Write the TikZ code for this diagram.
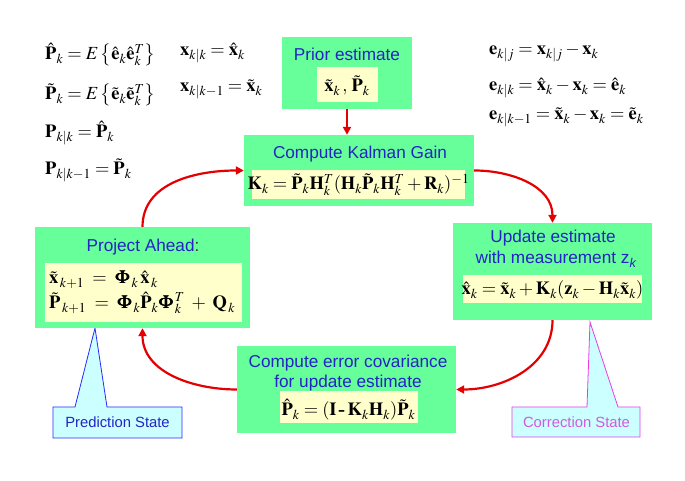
\documentclass[tikz,border=0pt]{standalone}
\usepackage{mathptmx}
\usepackage{amsmath}
\usepackage{bm}
\usepackage{fontspec}
\newfontfamily\arialfont{Liberation Sans}
\usetikzlibrary{arrows.meta}
\definecolor{gfill}{RGB}{102,255,153}
\definecolor{yfill}{RGB}{255,255,204}
\definecolor{tblue}{RGB}{36,36,196}
\definecolor{arrred}{RGB}{228,0,0}
\definecolor{cfill}{RGB}{204,255,255}
\definecolor{pblue}{RGB}{40,40,255}
\definecolor{cmag}{RGB}{230,60,230}
\definecolor{ctext}{RGB}{210,90,220}
\begin{document}
\begin{tikzpicture}[x=1pt,y=1pt,
  gbox/.style={fill=gfill, inner sep=0},
  ybox/.style={fill=yfill, inner sep=0},
  ttl/.style={font=\arialfont\fontsize{17.2}{20}\selectfont, text=tblue, anchor=base, inner sep=0},
  ctxt/.style={font=\arialfont\fontsize{14.8}{17}\selectfont, anchor=base, inner sep=0},
  fml/.style={font=\fontsize{18.5}{22}\selectfont, anchor=base, inner sep=0},
  fmlw/.style={fml, anchor=base west},
  flow/.style={draw=arrred, line width=2.2pt, -{Triangle[length=8pt,width=8pt]}},
  callout/.style={line width=0.8pt}]
\useasboundingbox (0,0) rectangle (685,481);
% callouts
\path[callout,fill=cfill,draw=pblue] (53,74)--(75,74)--(95,153)--(107,74)--(182,74)--(182,43)--(53,43)--cycle;
\node[ctxt,text=tblue] (pred) at (117.5,53) {Prediction State};
\path[callout,fill=cfill,draw=cmag] (512,74)--(587,74)--(590,159)--(618,74)--(640,74)--(640,44)--(512,44)--cycle;
\node[ctxt,text=ctext] (corr) at (576.5,53) {Correction State};
% boxes
\node[gbox,minimum width=130,minimum height=72] (prior) at (347,408) {};
\node[ybox,minimum width=61,minimum height=35] (priory) at (347.5,396.5) {};
\node[gbox,minimum width=230,minimum height=71] (kg) at (359,310.5) {};
\node[ybox,minimum width=213,minimum height=29] (kgy) at (358.5,296.5) {};
\node[gbox,minimum width=215,minimum height=101] (proj) at (142.5,203.5) {};
\node[ybox,minimum width=197,minimum height=59] (projy) at (143.5,188.5) {};
\node[gbox,minimum width=199,minimum height=97] (up) at (552.5,209.5) {};
\node[ybox,minimum width=179,minimum height=28] (upy) at (552.5,192) {};
\node[gbox,minimum width=219,minimum height=87] (err) at (346.5,91.5) {};
\node[ybox,minimum width=138,minimum height=32] (erry) at (349,74) {};
% titles
\node[ttl] (tprior) at (347,420) {Prior estimate};
\node[ttl] (tkg) at (360,322) {Compute Kalman Gain};
\node[ttl] (tproj) at (143,229) {Project Ahead\textcolor{black!80}{:}};
\node[ttl] (tup1) at (553,238) {Update estimate};
\node[ttl] (tup2) at (556,217) {with measurement z\textsubscript{\itshape k}};
\node[ttl] (terr1) at (348,113) {Compute error covariance};
\node[ttl] (terr2) at (348,93) {for update estimate};
% formulas in boxes
\node[fml] (fprior) at (347,389) {$\tilde{\mathbf x}_k\,,\,\tilde{\mathbf P}_k$};
\node[fml] (fkg) at (358.5,291) {$\mathbf K_k=\tilde{\mathbf P}_k\mathbf H_k^T(\mathbf H_k\tilde{\mathbf P}_k\mathbf H_k^T+\mathbf R_k)^{-1}$};
\node[fmlw] (fproj1) at (49,197) {$\tilde{\mathbf x}_{\,k+1}\;=\;\bm{\Phi}_{\,k}\,\hat{\mathbf x}_{\,k}$};
\node[fmlw] (fproj2) at (49,172) {$\tilde{\mathbf P}_{\,k+1}\;=\;\bm{\Phi}_{\,k}\hat{\mathbf P}_{k}\bm{\Phi}^{\,T}_{\,k}\;+\;\mathbf Q_{\,k}$};
\node[fml] (fup) at (552.5,186) {$\hat{\mathbf x}_k=\tilde{\mathbf x}_k+\mathbf K_k(\mathbf z_k-\mathbf H_k\tilde{\mathbf x}_k)$};
\node[fml] (ferr) at (348.5,65) {$\hat{\mathbf P}_k=(\mathbf I\,\mbox{\bfseries -}\,\mathbf K_k\mathbf H_k)\tilde{\mathbf P}_k$};
% definitions
\node[fmlw] (l1) at (45,421) {$\hat{\mathbf P}_k=E\left\{\hat{\mathbf e}_k\hat{\mathbf e}_k^T\right\}$};
\node[fmlw] (l2) at (45,381) {$\tilde{\mathbf P}_k=E\left\{\tilde{\mathbf e}_k\tilde{\mathbf e}_k^T\right\}$};
\node[fmlw] (l3) at (45,343) {$\mathbf P_{k|k}=\hat{\mathbf P}_k$};
\node[fmlw] (l4) at (45,306) {$\mathbf P_{k|k-1}=\tilde{\mathbf P}_k$};
\node[fmlw] (m1) at (180,425) {$\mathbf x_{k|k}=\hat{\mathbf x}_k$};
\node[fmlw] (m2) at (180,389) {$\mathbf x_{k|k-1}=\tilde{\mathbf x}_k$};
\node[fmlw] (r1) at (489,426) {$\mathbf e_{k|j}=\mathbf x_{k|j}-\mathbf x_k$};
\node[fmlw] (r2) at (489,390) {$\mathbf e_{k|k}=\hat{\mathbf x}_k-\mathbf x_k=\hat{\mathbf e}_k$};
\node[fmlw] (r3) at (489,361) {$\mathbf e_{k|k-1}=\tilde{\mathbf x}_k-\mathbf x_k=\tilde{\mathbf e}_k$};
% connectors
\draw[flow] (prior.south) -- (prior.south |- kg.north);
\draw[flow] (kg.east) to[out=0,in=90] (up.north);
\draw[flow] (up.south) to[out=-90,in=0] (err.east);
\draw[flow] (err.west) to[out=180,in=-90] (proj.south);
\draw[flow] (proj.north) to[out=90,in=180] (kg.west);
\end{tikzpicture}
\end{document}
